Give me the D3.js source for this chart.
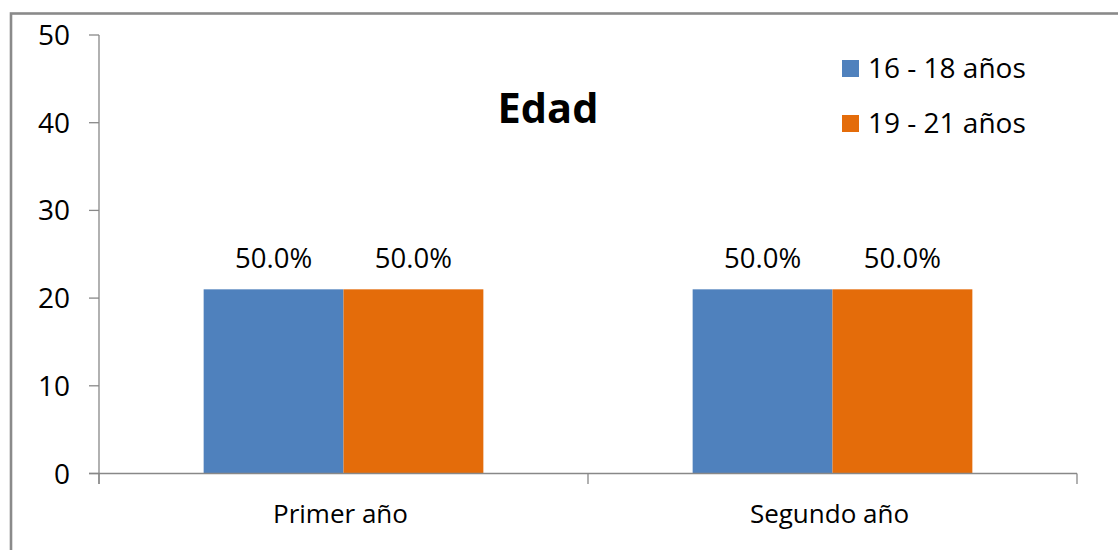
<!DOCTYPE html>
<html>
<head>
<meta charset="utf-8">
<script src="https://cdn.jsdelivr.net/npm/d3@7"></script>
<style>
  html, body { margin: 0; padding: 0; background: #fff; }
  svg { display: block; }
</style>
</head>
<body>
<svg id="chart" width="1118" height="550"></svg>
<script>
const categories = ["Primer año", "Segundo año"];
const seriesNames = ["16 - 18 años", "19 - 21 años"];
const seriesA = [21, 21];
const seriesB = [21, 21];
const labelsA = ["50.0%", "50.0%"];
const labelsB = ["50.0%", "50.0%"];
const yTicks = [0, 10, 20, 30, 40, 50];
const colors = ["#4F81BD", "#E46C0A"];
const title = "Edad";

const svg = d3.select("#chart");
const font = "'Open Sans', 'Segoe UI', sans-serif";
const axisColor = "#888888";

// outer frame
svg.append("rect")
  .attr("x", 11).attr("y", 13.5)
  .attr("width", 1200).attr("height", 600)
  .attr("fill", "none").attr("stroke", "#8a8a8a").attr("stroke-width", 2.6);

const x0 = d3.scaleBand().domain(categories).range([99, 1077])
  .paddingInner(0.428).paddingOuter(0.214);
const x1 = d3.scaleBand().domain([0, 1]).range([0, x0.bandwidth()]);
const y = d3.scaleLinear().domain([0, 50]).range([473.5, 35]);

const rows = categories.map((c, i) => ({ cat: c, vals: [seriesA[i], seriesB[i]], labs: [labelsA[i], labelsB[i]] }));

// bars
const g = svg.append("g");
rows.forEach(r => {
  r.vals.forEach((v, j) => {
    g.append("rect")
      .attr("x", x0(r.cat) + x1(j))
      .attr("y", y(v))
      .attr("width", x1.bandwidth())
      .attr("height", y(0) - y(v))
      .attr("fill", colors[j]);
    g.append("text")
      .attr("x", x0(r.cat) + x1(j) + x1.bandwidth() / 2)
      .attr("y", y(v) - 21)
      .attr("text-anchor", "middle")
      .attr("font-family", font).attr("font-size", 27.5)
      .attr("fill", "#000")
      .text(r.labs[j]);
  });
});

// y axis
const yAxis = svg.append("g");
yAxis.append("line").attr("x1", 99).attr("x2", 99).attr("y1", y(50)).attr("y2", 484)
  .attr("stroke", axisColor).attr("stroke-width", 1.3);
yTicks.forEach(t => {
  yAxis.append("line").attr("x1", 89).attr("x2", 99).attr("y1", y(t)).attr("y2", y(t))
    .attr("stroke", axisColor).attr("stroke-width", 1.3);
  yAxis.append("text").attr("x", 70).attr("y", y(t) + 10)
    .attr("text-anchor", "end")
    .attr("font-family", font).attr("font-size", 28).attr("fill", "#000")
    .text(t);
});

// x axis
const xAxis = svg.append("g");
xAxis.append("line").attr("x1", 89).attr("x2", 1077).attr("y1", y(0)).attr("y2", y(0))
  .attr("stroke", axisColor).attr("stroke-width", 1.6);
const bounds = [99].concat(categories.map(c => x0(c) + x0.bandwidth() + x0.step() * x0.paddingInner() / 2));
bounds[bounds.length - 1] = 1077;
bounds.forEach(b => {
  xAxis.append("line").attr("x1", b).attr("x2", b).attr("y1", y(0)).attr("y2", 484)
    .attr("stroke", axisColor).attr("stroke-width", 1.3);
});
categories.forEach(c => {
  xAxis.append("text").attr("x", x0(c) + x0.bandwidth() / 2 - 3).attr("y", 523)
    .attr("text-anchor", "middle")
    .attr("font-family", font).attr("font-size", 26).attr("fill", "#000")
    .text(c);
});

// title
svg.append("text").attr("x", 548).attr("y", 123)
  .attr("text-anchor", "middle")
  .attr("font-family", font).attr("font-weight", "bold").attr("font-size", 41.5)
  .attr("fill", "#000").text(title);

// legend
const legend = svg.append("g");
seriesNames.forEach((s, i) => {
  const ly = 60 + i * 55;
  legend.append("rect").attr("x", 842).attr("y", ly).attr("width", 17).attr("height", 17)
    .attr("fill", colors[i]);
  legend.append("text").attr("x", 868).attr("y", ly + 18)
    .attr("font-family", font).attr("font-size", 28).attr("fill", "#000")
    .text(s);
});
</script>
</body>
</html>
